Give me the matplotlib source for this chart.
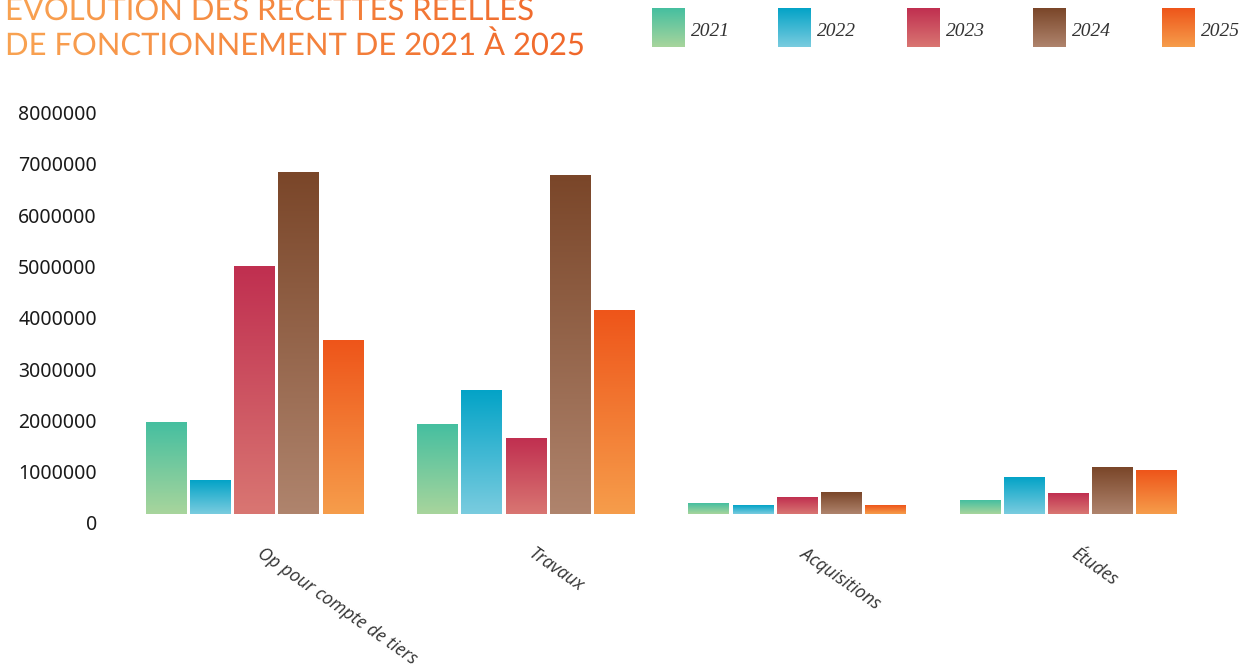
import numpy as np
import matplotlib
matplotlib.use("Agg")
import matplotlib.pyplot as plt
from matplotlib.colors import LinearSegmentedColormap
from matplotlib.transforms import ScaledTranslation, Affine2D
from matplotlib.textpath import TextPath
from matplotlib.font_manager import FontProperties
from matplotlib.patches import PathPatch

# Recettes par catégorie et par année
categories = ["Op pour compte de tiers", "Travaux", "Acquisitions", "Études"]
years = ["2021", "2022", "2023", "2024", "2025"]
values = {
    "2021": [1790000, 1750000, 210000, 270000],
    "2022": [650000, 2400000, 160000, 720000],
    "2023": [4830000, 1480000, 330000, 390000],
    "2024": [6650000, 6590000, 410000, 900000],
    "2025": [3390000, 3960000, 160000, 840000],
}
# (haut, bas) du dégradé de chaque année
colors = {
    "2021": ("#45BFA0", "#A8D59C"),
    "2022": ("#03A3C7", "#7ACCDF"),
    "2023": ("#C02F50", "#D97672"),
    "2024": ("#7A4629", "#AF846D"),
    "2025": ("#EE551A", "#F69D4B"),
}
yticks = [0, 1000000, 2000000, 3000000, 4000000, 5000000, 6000000, 7000000, 8000000]
title_lines = ["ÉVOLUTION DES RECETTES RÉELLES", "DE FONCTIONNEMENT DE 2021 À 2025"]

W, H = 1252, 672
fig = plt.figure(figsize=(W / 100, H / 100), dpi=100)
ax = fig.add_axes([119 / W, 1 - 514 / H, 1085 / W, (514 - 103.5) / H])

grad = np.linspace(0, 1, 256).reshape(-1, 1)
x = np.arange(len(categories))
step, width = 0.163, 0.15

for i, yr in enumerate(years):
    top, bottom = colors[yr]
    cmap = LinearSegmentedColormap.from_list("g" + yr, [bottom, top])
    bars = ax.bar(x + (i - 2) * step, values[yr], width, color="none")
    for b in bars:
        x0, y0 = b.get_x(), b.get_y()
        ax.imshow(grad, cmap=cmap, origin="lower", aspect="auto",
                  extent=[x0, x0 + b.get_width(), y0, y0 + b.get_height()],
                  zorder=2)

ax.set_xlim(-0.5, 3.5)
ax.set_ylim(0, 8000000)
for s in ax.spines.values():
    s.set_visible(False)

ax.set_yticks(yticks)
ax.set_yticklabels([str(v) for v in yticks], fontsize=14, color="#1a1a1a",
                   family="Noto Sans", weight="medium")
ax.tick_params(axis="y", length=0, pad=16)
shift = ScaledTranslation(0, -9 / 100, fig.dpi_scale_trans)
for lbl in ax.get_yticklabels():
    lbl.set_transform(lbl.get_transform() + shift)

ax.set_xticks(x)
ax.set_xticklabels(categories, rotation=-35, ha="left", va="top",
                   rotation_mode="anchor", fontsize=12.8, color="#333333",
                   family="Open Sans", style="italic")
ax.tick_params(axis="x", length=0, pad=22)
shift_x = ScaledTranslation(10 / 100, 0, fig.dpi_scale_trans)
for lbl in ax.get_xticklabels():
    lbl.set_transform(lbl.get_transform() + shift_x)

# Titre en dégradé orange (texte vectoriel servant de masque)
over = fig.add_axes([0, 0, 1, 1], zorder=5)
over.axis("off")
title_cmap = LinearSegmentedColormap.from_list("title", ["#F9A352", "#F0662A"])
hgrad = np.linspace(0, 1, 256).reshape(1, -1)
tprop = FontProperties(family="Lato", weight="normal")
for k, line in enumerate(title_lines):
    base = H - (20 + 35 * k)
    tp = TextPath((0, 0), line, size=31, prop=tprop)
    tp = Affine2D().translate(5, base).transform_path(tp)
    patch = PathPatch(tp, facecolor="none", edgecolor="none")
    over.add_patch(patch)
    im = over.imshow(hgrad, cmap=title_cmap, aspect="auto",
                     extent=[5, 595, base - 10, base + 30])
    im.set_clip_path(patch)
over.set_xlim(0, W)
over.set_ylim(0, H)

# Légende
lx = [652, 778, 907, 1033, 1162]
for i, yr in enumerate(years):
    top, bottom = colors[yr]
    cmap = LinearSegmentedColormap.from_list("l" + yr, [bottom, top])
    sw = fig.add_axes([lx[i] / W, 1 - 47 / H, 33 / W, 39 / H])
    sw.imshow(grad, cmap=cmap, origin="lower", aspect="auto")
    sw.axis("off")
    fig.text((lx[i] + 39) / W, 1 - 31 / H, yr, fontsize=14,
             family="Liberation Serif", style="italic", color="#333333",
             va="center")

fig.savefig("out.png", dpi=100, facecolor="white")
